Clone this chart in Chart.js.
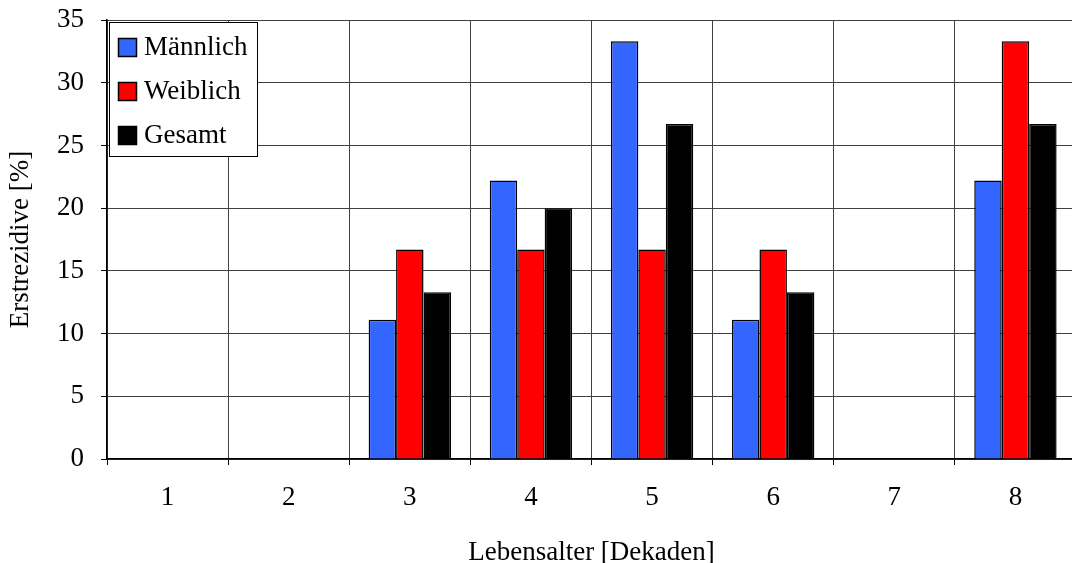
<!DOCTYPE html>
<html>
<head>
<meta charset="utf-8">
<script src="https://cdn.jsdelivr.net/npm/chart.js@4/dist/chart.umd.min.js"></script>
<style>
  html, body { margin: 0; padding: 0; background: #fff; overflow: hidden; }
  canvas { display: block; }
</style>
</head>
<body>
<canvas id="grafico" width="1076" height="570"></canvas>
<script>
// =====================================================
// DATOS
// =====================================================

const dekaden = ["1", "2", "3", "4", "5", "6", "7", "8"];
const maennlich = [0, 0, 11.1, 22.2, 33.3, 11.1, 0, 22.2];
const weiblich = [0, 0, 16.7, 16.7, 16.7, 16.7, 0, 33.3];
const gesamt = [0, 0, 13.3, 20, 26.7, 13.3, 0, 26.7];
const yTicks = [0, 5, 10, 15, 20, 25, 30, 35];

const SCHRIFT = "'Liberation Serif', 'Times New Roman', serif";
const GROESSE = 27;

// =====================================================
// LEGENDE IM DIAGRAMM
// =====================================================

const legendeBox = {
  id: "legendeBox",
  afterDraw(chart) {
    const ctx = chart.ctx;
    const x = 109, y = 22, w = 148, h = 134;
    ctx.save();
    ctx.fillStyle = "#fff";
    ctx.fillRect(x, y, w, h);
    ctx.strokeStyle = "#000";
    ctx.lineWidth = 1;
    ctx.strokeRect(x + 0.5, y + 0.5, w, h);

    ctx.font = GROESSE + "px " + SCHRIFT;
    ctx.textBaseline = "middle";
    const zeilen = [47, 91, 135];
    chart.data.datasets.forEach((ds, i) => {
      const cy = zeilen[i];
      ctx.fillStyle = ds.backgroundColor;
      ctx.fillRect(118, cy - 9, 18, 18);
      ctx.strokeStyle = "#000";
      ctx.lineWidth = 1.5;
      ctx.strokeRect(118.5, cy - 8.5, 18, 18);
      ctx.fillStyle = "#000";
      ctx.fillText(ds.label, 144, cy + 1);
    });
    ctx.restore();
  }
};

// =====================================================
// GRAFICO
// =====================================================

const rand = (c) => (c.raw === 0 ? 0 : 1.5);

new Chart(document.getElementById("grafico"), {
  type: "bar",
  data: {
    labels: dekaden,
    datasets: [
      { label: "Männlich", data: maennlich, backgroundColor: "#3366FF", borderColor: "#000", borderWidth: rand },
      { label: "Weiblich", data: weiblich, backgroundColor: "#FF0000", borderColor: "#000", borderWidth: rand },
      { label: "Gesamt", data: gesamt, backgroundColor: "#000000", borderColor: "#000", borderWidth: rand }
    ]
  },
  options: {
    responsive: false,
    animation: false,
    layout: { padding: { top: 20, left: 0, right: 0, bottom: 0 } },
    datasets: {
      bar: { categoryPercentage: 0.68, barPercentage: 1.0, borderSkipped: "start" }
    },
    plugins: {
      legend: { display: false },
      tooltip: { enabled: false }
    },
    scales: {
      x: {
        offset: true,
        afterFit: (s) => { s.height = 111; s.paddingLeft = 0; s.paddingRight = 0; },
        grid: { offset: true, color: "#404040", tickColor: "#000", tickLength: 6, lineWidth: 1 },
        border: { color: "#000", width: 1.5 },
        ticks: { color: "#000", padding: 17, font: { family: SCHRIFT, size: GROESSE } },
        title: {
          display: true,
          text: "Lebensalter [Dekaden]",
          color: "#000",
          font: { family: SCHRIFT, size: GROESSE },
          padding: { top: 0, bottom: 1 }
        }
      },
      y: {
        min: 0,
        max: 35,
        afterFit: (s) => { s.width = 107; s.paddingTop = 0; s.paddingBottom = 0; },
        afterBuildTicks: (s) => { s.ticks = yTicks.map(v => ({ value: v })); },
        grid: { color: "#404040", tickColor: "#000", tickLength: 6, lineWidth: 1 },
        border: { color: "#000", width: 1.5 },
        ticks: { color: "#000", padding: 17, font: { family: SCHRIFT, size: GROESSE } },
        title: {
          display: true,
          text: "Erstrezidive [%]",
          color: "#000",
          font: { family: SCHRIFT, size: GROESSE },
          padding: { top: 5, bottom: 0 }
        }
      }
    }
  },
  plugins: [legendeBox]
});
</script>
</body>
</html>
